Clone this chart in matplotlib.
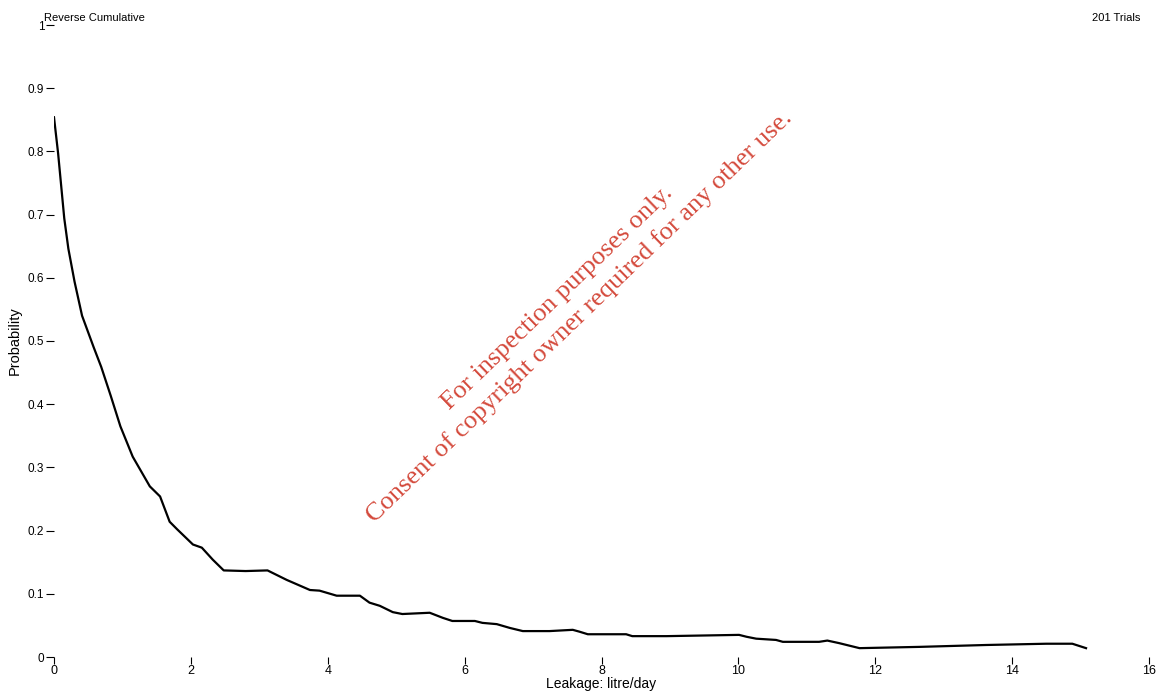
import matplotlib.pyplot as plt

# reverse cumulative probability of leakage (201 trials)
leakage = [0.0, 0.06, 0.15, 0.21, 0.30, 0.41, 0.58, 0.69, 0.83, 0.97, 1.15, 1.40,
           1.55, 1.69, 1.80, 2.03, 2.16, 2.32, 2.48, 2.80, 3.12, 3.40, 3.74, 3.88,
           4.13, 4.47, 4.61, 4.76, 4.95, 5.09, 5.49, 5.68, 5.82, 6.15, 6.26, 6.47,
           6.66, 6.85, 6.99, 7.24, 7.58, 7.68, 7.80, 8.36, 8.45, 8.95, 10.01, 10.12,
           10.26, 10.55, 10.65, 11.18, 11.30, 11.47, 11.77, 12.64, 13.62, 14.50,
           14.88, 15.08]
probability = [0.854, 0.797, 0.694, 0.646, 0.594, 0.540, 0.490, 0.459, 0.413, 0.365,
               0.317, 0.270, 0.254, 0.214, 0.202, 0.178, 0.173, 0.154, 0.137, 0.136,
               0.137, 0.122, 0.106, 0.105, 0.097, 0.097, 0.086, 0.081, 0.071, 0.068,
               0.070, 0.062, 0.057, 0.057, 0.054, 0.052, 0.046, 0.041, 0.041, 0.041,
               0.043, 0.040, 0.036, 0.036, 0.033, 0.033, 0.035, 0.032, 0.029, 0.027,
               0.024, 0.024, 0.026, 0.022, 0.014, 0.016, 0.019, 0.021, 0.021, 0.014]

x_ticks = [0, 2, 4, 6, 8, 10, 12, 14, 16]
y_ticks = [0, 0.1, 0.2, 0.3, 0.4, 0.5, 0.6, 0.7, 0.8, 0.9, 1]
y_tick_labels = ['0', '0.1', '0.2', '0.3', '0.4', '0.5', '0.6', '0.7', '0.8', '0.9', '1']

W, H = 1162, 694
plt.rcParams['font.family'] = ['Liberation Sans', 'DejaVu Sans']

fig = plt.figure(figsize=(W / 100, H / 100), dpi=100)
ax = fig.add_axes([54 / W, 1 - 657 / H, (1149 - 54) / W, (657 - 25) / H])

ax.plot(leakage, probability, color='black', lw=1.6, solid_joinstyle='round')

ax.set_xlim(0, 16)
ax.set_ylim(0, 1)
for s in ax.spines.values():
    s.set_visible(False)

ax.set_xticks(x_ticks)
ax.set_yticks(y_ticks)
ax.set_yticklabels(y_tick_labels)
ax.tick_params(axis='x', direction='out', length=5, width=0.8, pad=1, labelsize=9)
ax.tick_params(axis='y', direction='out', length=6, width=0.8, pad=1, labelsize=8.5)

ax.set_xlabel('Leakage: litre/day', fontsize=10, labelpad=0)
ax.set_ylabel('Probability', fontsize=10.5, labelpad=4)

fig.text(44 / W, 1 - 18 / H, 'Reverse Cumulative', fontsize=8, va='center', ha='left')
fig.text(1140 / W, 1 - 18 / H, '201 Trials', fontsize=8, va='center', ha='right')

# watermark stamped across the plot
red = '#d44a3c'
fig.text(562 / W, 1 - 302 / H, 'For inspection purposes only.', color=red,
         family=['Liberation Serif'], fontsize=19, rotation=44,
         rotation_mode='anchor', ha='center', va='baseline')
fig.text(584 / W, 1 - 321 / H, 'Consent of copyright owner required for any other use.',
         color=red, family=['Liberation Serif'], fontsize=19, rotation=44,
         rotation_mode='anchor', ha='center', va='baseline')

fig.savefig('out.png', dpi=100)
